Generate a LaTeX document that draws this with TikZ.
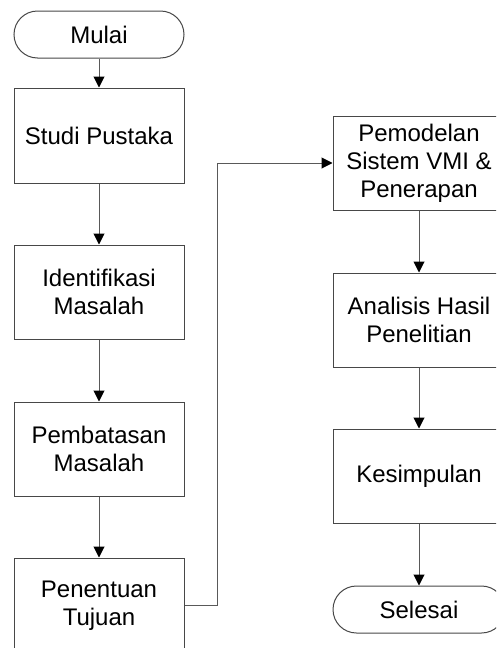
\documentclass[tikz,border=0pt]{standalone}
\usepackage{fontspec}
\setmainfont{Liberation Sans}
\usetikzlibrary{arrows.meta}
\begin{document}
\begin{tikzpicture}[x=1pt,y=1pt,
  box/.style={draw=black!72, line width=1pt, minimum width=170pt, minimum height=94pt, inner sep=0pt, align=center, font=\fontsize{24}{28}\selectfont},
  term/.style={box, minimum height=47pt, rounded corners=23.5pt},
  flow/.style={draw=black!65, line width=1pt, -{Triangle[length=11pt,width=11pt,color=black]}}]
\useasboundingbox (0,0) rectangle (496,-648);
\clip (0,0) rectangle (496,-648);
\node[term] (mulai) at (99,-34.5) {Mulai};
\node[box, minimum height=95pt] (studi) at (99,-135.5) {Studi Pustaka};
\node[box] (ident) at (99,-292) {Identifikasi\\Masalah};
\node[box] (batas) at (99,-449) {Pembatasan\\Masalah};
\node[box, minimum height=95pt] (tuju) at (99,-605.5) {Penentuan\\Tujuan};
\node[box, minimum width=172pt] (model) at (419,-163) {Pemodelan\\Sistem VMI \&\\Penerapan};
\node[box, minimum width=172pt] (anal) at (419,-320) {Analisis Hasil\\Penelitian};
\node[box, minimum width=172pt] (simp) at (419,-476) {Kesimpulan};
\node[term, minimum width=172pt] (selesai) at (419,-609.5) {Selesai};
\coordinate (turn) at (217,-400);
\draw[flow] (mulai) -- (studi);
\draw[flow] (studi) -- (ident);
\draw[flow] (ident) -- (batas);
\draw[flow] (batas) -- (tuju);
\draw[flow] (tuju.east) -- (tuju.east -| turn) -- (turn |- model.west) -- (model.west);
\draw[flow] (model) -- (anal);
\draw[flow] (anal) -- (simp);
\draw[flow] (simp) -- (selesai);
\end{tikzpicture}
\end{document}
